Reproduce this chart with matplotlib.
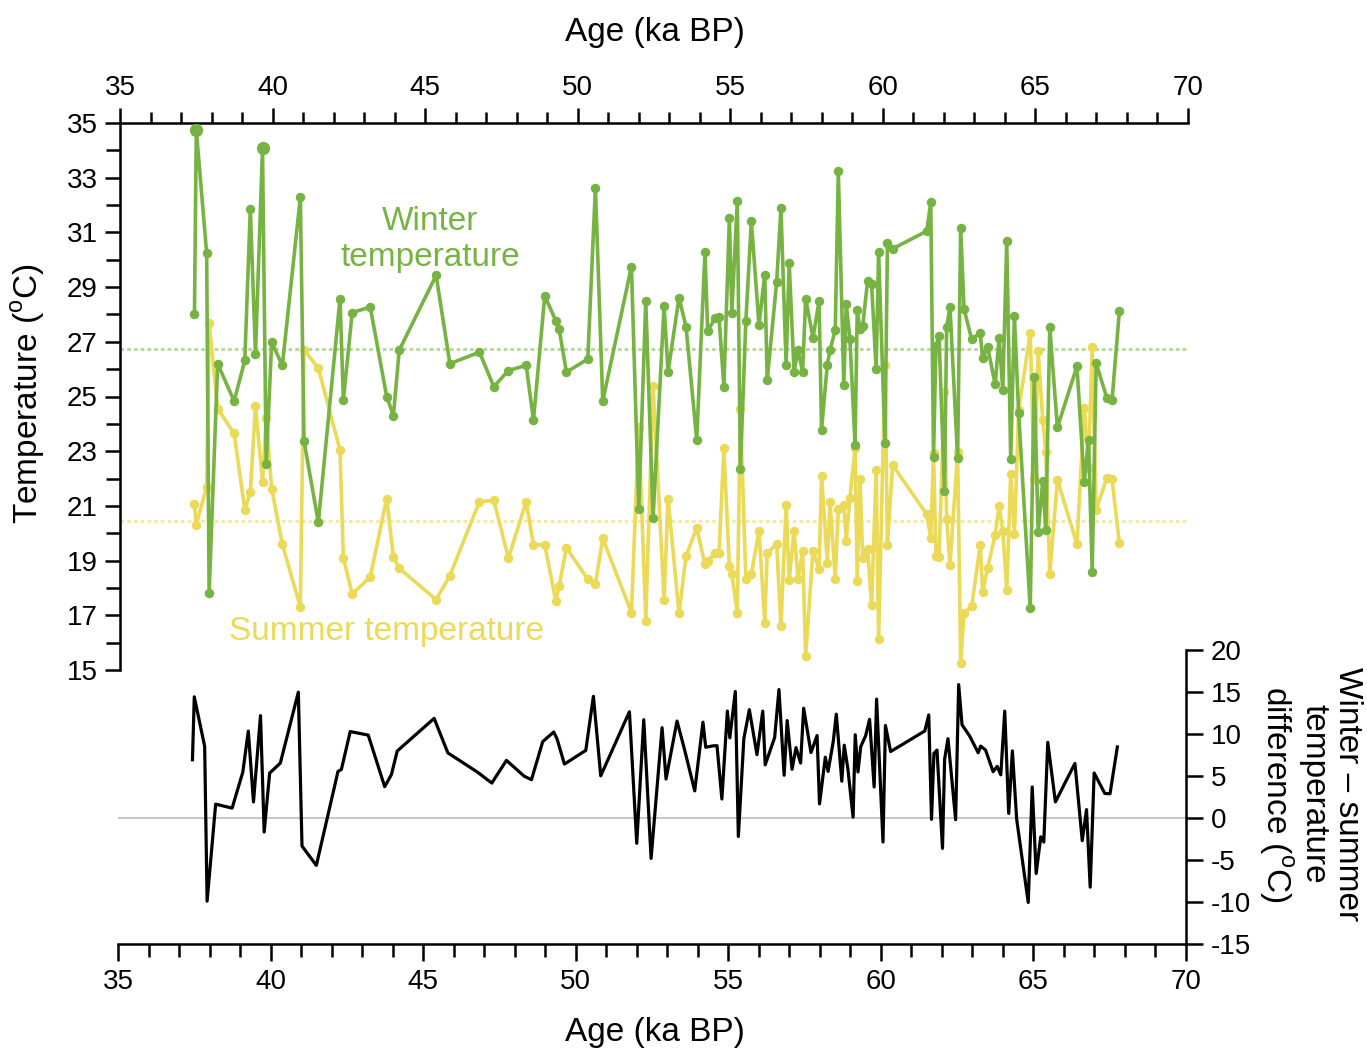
import numpy as np
import matplotlib
matplotlib.use("Agg")
import matplotlib.pyplot as plt
from matplotlib.ticker import MultipleLocator

plt.rcParams['font.family'] = ['Liberation Sans', 'DejaVu Sans']
plt.rcParams['mathtext.fontset'] = 'custom'
plt.rcParams['mathtext.rm'] = 'Liberation Sans'
plt.rcParams['axes.unicode_minus'] = False

# sample ages (ka BP) with winter / summer temperatures (deg C)
age = [37.44, 37.50, 37.84, 37.92, 38.20, 38.74, 39.09, 39.27, 39.44, 39.67,
       39.79, 39.97, 40.32, 40.91, 41.03, 41.50, 42.21, 42.32, 42.61, 43.20,
       43.74, 43.96, 44.15, 45.36, 45.81, 46.78, 47.25, 47.73, 48.31, 48.55,
       48.92, 49.28, 49.39, 49.63, 50.33, 50.58, 50.82, 51.76, 52.00, 52.23,
       52.47, 52.83, 52.96, 53.32, 53.55, 53.90, 54.17, 54.26, 54.50, 54.63,
       54.79, 54.97, 55.05, 55.23, 55.33, 55.51, 55.69, 55.94, 56.13, 56.21,
       56.52, 56.66, 56.83, 56.93, 57.09, 57.22, 57.37, 57.47, 57.71, 57.91,
       57.99, 58.18, 58.27, 58.44, 58.54, 58.72, 58.80, 58.92, 59.09, 59.16,
       59.25, 59.34, 59.50, 59.63, 59.78, 59.86, 60.07, 60.15, 60.32, 61.44,
       61.57, 61.66, 61.74, 61.84, 62.02, 62.09, 62.20, 62.45, 62.55, 62.66,
       62.91, 63.19, 63.27, 63.43, 63.68, 63.81, 63.93, 64.06, 64.19, 64.31,
       64.45, 64.83, 64.96, 65.09, 65.24, 65.34, 65.47, 65.72, 66.36, 66.60,
       66.74, 66.86, 66.99, 67.34, 67.51, 67.75]

winter = [28.00, 34.74, 30.23, 17.80, 26.20, 24.83, 26.32, 31.84, 26.56, 34.07,
          22.53, 26.98, 26.14, 32.28, 23.37, 20.40, 28.58, 24.87, 28.07, 28.27,
          25.00, 24.30, 26.69, 29.43, 26.20, 26.62, 25.36, 25.95, 26.14, 24.14,
          28.68, 27.77, 27.47, 25.89, 26.37, 32.64, 24.83, 29.75, 20.89, 28.49,
          20.57, 28.32, 25.90, 28.61, 27.55, 23.42, 30.27, 27.39, 27.86, 27.90,
          25.36, 31.52, 28.04, 32.16, 22.35, 27.76, 31.40, 27.62, 29.46, 25.60,
          29.19, 31.89, 26.14, 29.88, 25.90, 26.70, 25.90, 28.58, 27.15, 28.50,
          23.79, 26.17, 26.71, 27.42, 33.25, 25.43, 28.38, 27.12, 23.22, 28.16,
          27.45, 27.59, 29.22, 29.12, 26.00, 30.27, 23.29, 30.60, 30.40, 31.05,
          32.10, 22.79, 26.85, 27.21, 21.53, 27.53, 28.27, 22.76, 31.15, 28.20,
          27.09, 27.32, 26.40, 26.82, 25.45, 27.15, 25.22, 30.67, 22.72, 27.96,
          24.38, 17.26, 25.70, 20.04, 21.91, 20.12, 27.53, 23.87, 26.10, 21.88,
          23.40, 18.59, 26.21, 24.95, 24.86, 28.11]

summer = [21.07, 20.31, 21.70, 27.70, 24.55, 23.65, 20.86, 21.49, 24.65, 21.88,
          24.20, 21.63, 19.60, 17.30, 26.71, 26.04, 23.03, 19.10, 17.78, 18.40,
          21.27, 19.13, 18.72, 17.57, 18.45, 21.16, 21.20, 19.09, 21.16, 19.58,
          19.58, 17.53, 18.07, 19.47, 18.32, 18.15, 19.81, 17.10, 23.90, 16.79,
          25.38, 17.57, 21.26, 17.07, 19.17, 20.19, 18.86, 18.97, 19.27, 19.29,
          23.10, 18.79, 18.50, 17.10, 24.55, 18.32, 18.50, 20.08, 16.73, 19.27,
          19.60, 16.60, 21.05, 18.28, 20.10, 18.32, 19.36, 15.51, 19.36, 18.68,
          22.11, 18.93, 21.16, 18.32, 20.89, 21.05, 19.71, 21.30, 23.12, 18.25,
          21.97, 19.10, 19.44, 17.37, 22.31, 16.12, 26.15, 19.58, 22.49, 20.69,
          19.83, 22.95, 19.16, 19.13, 25.15, 20.51, 18.83, 22.96, 15.27, 17.10,
          17.33, 19.56, 17.84, 18.72, 19.94, 21.00, 20.08, 17.94, 22.18, 19.97,
          24.50, 27.32, 22.00, 26.65, 24.15, 22.98, 18.52, 21.95, 19.60, 24.58,
          22.40, 26.82, 20.85, 22.03, 21.97, 19.65]

winter_mean = 26.75
summer_mean = 20.45

age = np.array(age)
winter = np.array(winter)
summer = np.array(summer)
diff = winter - summer

green = '#76b343'
yellow = '#ebda58'
W, H = 1367, 1052

fig = plt.figure(figsize=(W / 100, H / 100), dpi=100)

# ---- top panel: temperatures ----
ax = fig.add_axes([120 / W, 1 - 670 / H, 1068 / W, 547 / H])
ax.set_facecolor('none')
ax.set_xlim(35, 70)
ax.set_ylim(15, 35)

ax.axhline(winter_mean, color='#b9da9e', lw=2.2, ls=(0, (1.2, 1.0)), zorder=1)
ax.axhline(summer_mean, color='#f3eba4', lw=2.2, ls=(0, (1.2, 1.0)), zorder=1)

ax.plot(age, summer, color=yellow, lw=2.6, marker='o', ms=5.8, zorder=2)
ax.plot(age, winter, color=green, lw=2.6, marker='o', ms=5.8, zorder=3)
big = winter > 34
ax.plot(age[big], winter[big], ls='none', marker='o', ms=8.5, color=green, zorder=4)

ax.text(45.16, 30.75, 'Winter\ntemperature', color=green, fontsize=24,
        ha='center', va='center', linespacing=1.2)
ax.text(43.72, 16.39, 'Summer temperature', color=yellow, fontsize=24,
        ha='center', va='center')

for s in ['bottom', 'right']:
    ax.spines[s].set_visible(False)
for s in ['left', 'top']:
    ax.spines[s].set_linewidth(1.8)
ax.xaxis.set_major_locator(MultipleLocator(5))
ax.xaxis.set_minor_locator(MultipleLocator(1))
ax.yaxis.set_minor_locator(MultipleLocator(1))
ax.set_yticks(np.arange(15, 36, 2))
ax.tick_params(axis='x', which='both', top=True, bottom=False, labeltop=True,
               labelbottom=False, direction='out', width=1.8, labelsize=20, pad=5)
ax.tick_params(axis='x', which='major', length=11)
ax.tick_params(axis='x', which='minor', length=8)
ax.tick_params(axis='y', which='both', direction='out', width=1.8, labelsize=20, pad=5)
ax.tick_params(axis='y', which='major', length=11)
ax.tick_params(axis='y', which='minor', length=10)

# ---- bottom panel: difference ----
bx = fig.add_axes([118 / W, 1 - 944 / H, 1068 / W, 294 / H])
bx.set_facecolor('none')
bx.set_xlim(35, 70)
bx.set_ylim(-15, 20)
bx.axhline(0, color='#c8c8c8', lw=1.5, zorder=1)
bx.plot(age, diff, color='black', lw=2.3, zorder=2)

for s in ['top', 'left']:
    bx.spines[s].set_visible(False)
for s in ['bottom', 'right']:
    bx.spines[s].set_linewidth(1.8)
bx.xaxis.set_major_locator(MultipleLocator(5))
bx.xaxis.set_minor_locator(MultipleLocator(1))
bx.yaxis.set_major_locator(MultipleLocator(5))
bx.yaxis.tick_right()
bx.tick_params(axis='x', which='both', direction='out', width=1.8, labelsize=20, pad=6)
bx.tick_params(axis='x', which='major', length=12)
bx.tick_params(axis='x', which='minor', length=9)
bx.tick_params(axis='y', which='major', direction='out', width=1.8, length=12,
               labelsize=20, pad=6, left=False, right=True, labelleft=False, labelright=True)

# ---- axis titles ----
fig.text(655 / W, 1 - 32 / H, 'Age (ka BP)', fontsize=24, ha='center', va='center')
fig.text(655 / W, 1 - 1032 / H, 'Age (ka BP)', fontsize=24, ha='center', va='center')
fig.text(28 / W, 1 - 394 / H, r'Temperature ($^\mathrm{o}$C)', fontsize=24,
         rotation=90, ha='center', va='center')
fig.text(1310 / W, 1 - 794 / H, 'Winter \u2013 summer\ntemperature\ndifference ($^\mathrm{o}$C)',
         fontsize=24, rotation=270, ha='center', va='center', multialignment='center',
         linespacing=1.12)

fig.savefig('out.png', dpi=100)
